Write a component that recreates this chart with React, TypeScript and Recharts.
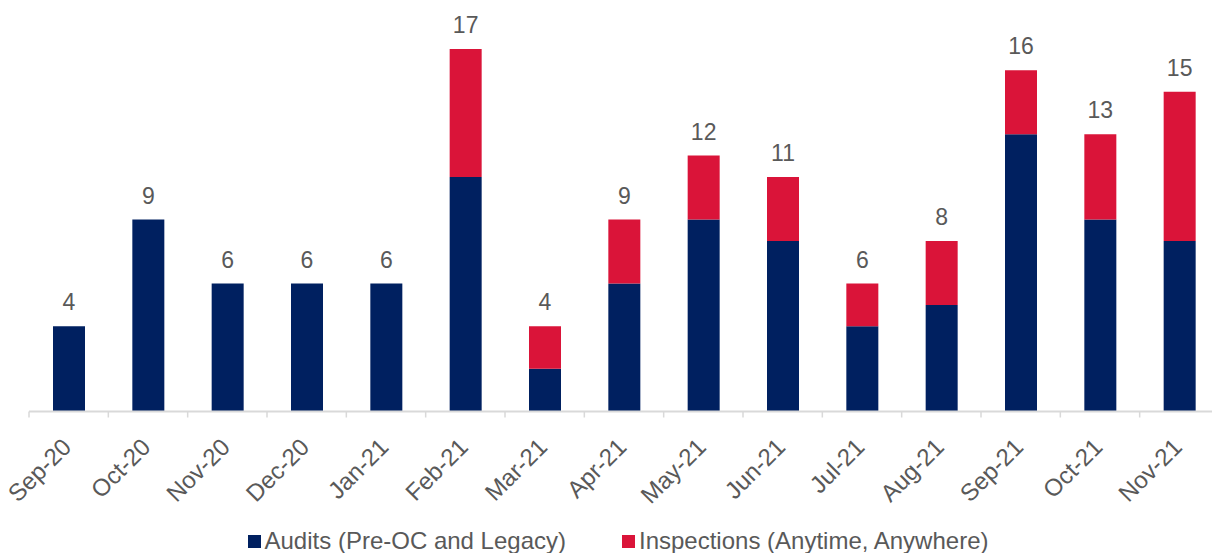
import React from "react";
import { BarChart, Bar, XAxis, YAxis, Legend, LabelList } from "recharts";

const months = [
  "Sep-20", "Oct-20", "Nov-20", "Dec-20", "Jan-21", "Feb-21", "Mar-21", "Apr-21",
  "May-21", "Jun-21", "Jul-21", "Aug-21", "Sep-21", "Oct-21", "Nov-21",
];
const audits = [4, 9, 6, 6, 6, 11, 2, 6, 9, 8, 4, 5, 13, 9, 8];
const inspections = [0, 0, 0, 0, 0, 6, 2, 3, 3, 3, 2, 3, 3, 4, 7];

const NAVY = "#002060";
const RED = "#DA1439";
const TEXT = "#595959";
const AXIS = "#D9D9D9";
const FONT = "'Liberation Sans', Arial, sans-serif";

// total sits on the red segment, or on the navy one when there are no inspections
const data = months.map((m, i) => {
  const total = audits[i] + inspections[i];
  return {
    month: m,
    audits: audits[i],
    inspections: inspections[i],
    auditsLabel: inspections[i] === 0 ? total : null,
    total,
  };
});

function MonthTick(props: any) {
  const { x, y, payload, index } = props;
  const half = payload?.offset || 39.67;
  const ax = x + 4;
  const ay = y + 29;
  return (
    <g>
      <line x1={x - half} y1={y - 8} x2={x - half} y2={y - 2} stroke={AXIS} strokeWidth={1.5} />
      {index === months.length - 1 && (
        <line x1={x + half} y1={y - 8} x2={x + half} y2={y - 2} stroke={AXIS} strokeWidth={1.5} />
      )}
      <text
        x={ax}
        y={ay}
        textAnchor="end"
        transform={`rotate(-45 ${ax} ${ay})`}
        fill={TEXT}
        fontSize={24}
        fontFamily={FONT}
      >
        {payload.value}
      </text>
    </g>
  );
}

function LegendContent() {
  const items = [
    { label: "Audits (Pre-OC and Legacy)", color: NAVY },
    { label: "Inspections (Anytime, Anywhere)", color: RED },
  ];
  return (
    <div
      style={{
        display: "flex",
        justifyContent: "center",
        gap: 56,
        fontFamily: FONT,
        marginLeft: -12,
        paddingTop: 4,
      }}
    >
      {items.map((it) => (
        <div key={it.label} style={{ display: "flex", alignItems: "center" }}>
          <span style={{ width: 13, height: 13, background: it.color, marginRight: 4, display: "inline-block" }} />
          <span style={{ fontSize: 24, color: TEXT, lineHeight: "28px" }}>{it.label}</span>
        </div>
      ))}
    </div>
  );
}

export default function App() {
  return (
    <div style={{ position: "absolute", left: 0, top: 0, width: 1212, height: 553, overflow: "hidden", background: "#fff" }}>
      <BarChart
        width={1230}
        height={553}
        data={data}
        margin={{ top: 49, right: 11, bottom: 0, left: 29 }}
      >
        <XAxis
          dataKey="month"
          interval={0}
          height={111.5}
          axisLine={{ stroke: AXIS, strokeWidth: 2 }}
          tickLine={false}
          tick={<MonthTick />}
        />
        <YAxis hide domain={[0, 17]} />
        <Legend verticalAlign="bottom" height={30} content={<LegendContent />} />
        <Bar dataKey="audits" stackId="a" fill={NAVY} barSize={32} isAnimationActive={false}>
          <LabelList dataKey="auditsLabel" position="top" offset={16} fill={TEXT} fontSize={23} fontFamily={FONT} />
        </Bar>
        <Bar dataKey="inspections" stackId="a" fill={RED} barSize={32} isAnimationActive={false}>
          <LabelList dataKey="total" position="top" offset={16} fill={TEXT} fontSize={23} fontFamily={FONT} />
        </Bar>
      </BarChart>
    </div>
  );
}
